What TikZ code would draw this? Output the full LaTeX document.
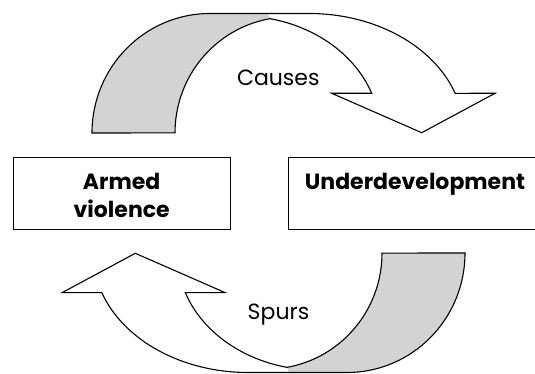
\documentclass[tikz,border=0pt]{standalone}
\usepackage{fontspec}
\setmainfont{Poppins}
\definecolor{backgray}{RGB}{211,211,211}
\tikzset{
  outline/.style={draw=black,line width=1.1pt,line join=miter},
  boxframe/.style={draw=black,line width=1.1pt,inner sep=0pt,minimum height=71.7pt,anchor=north west},
  lbl/.style={font=\fontsize{22}{28}\selectfont,inner sep=0pt,anchor=base},
  boxlbl/.style={font=\fontsize{22}{28}\selectfont\bfseries,inner sep=0pt,align=center,anchor=base},
  curvedarrow/.pic={
    \fill[backgray] (92,241) arc[start angle=180,end angle=90,x radius=118,y radius=119.5]
      -- (268,360.5) -- (270.05,355.27)
      arc[start angle=100,end angle=180,x radius=115,y radius=116] -- cycle;
    \draw[outline] (92,241) arc[start angle=180,end angle=90,x radius=118,y radius=119.5]
      -- (309,360.5) arc[start angle=90,end angle=19.4,x radius=155,y radius=119.5]
      -- (495,280.7) -- (421.7,241.3) -- (331.7,280.7) -- (371.7,280.7)
      arc[start angle=19.8,end angle=77.6,x radius=140,y radius=117]
      arc[start angle=100,end angle=180,x radius=115,y radius=116] -- cycle;
  }
}
\begin{document}
\begin{tikzpicture}[x=1pt,y=1pt]
\useasboundingbox (0,0) rectangle (535,374);
\clip (0,0) rectangle (535,374);
\pic (causesarrow) at (0,0) {curvedarrow};
\pic[rotate=180] (spursarrow) at (557,362) {curvedarrow};
\node[lbl] (causes) at (278.3,288) {Causes};
\node[lbl] (spurs) at (278.5,54) {Spurs};
\node[boxframe,minimum width=216.7pt] (avbox) at (13.3,216.7) {};
\node[boxframe,minimum width=253.4pt] (udbox) at (288.3,216.7) {};
\node[boxlbl] (avtext) at (121.7,156) {Armed\\violence};
\node[boxlbl] (udtext) at (415,184) {Underdevelopment};
\end{tikzpicture}
\end{document}
